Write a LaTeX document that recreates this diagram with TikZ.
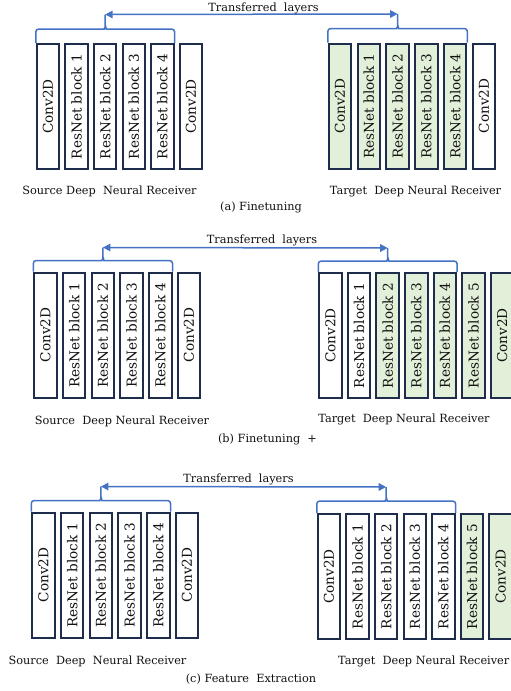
\documentclass[tikz,border=0pt]{standalone}
\usepackage{fontspec}
\setmainfont{DejaVu Serif}
\usetikzlibrary{arrows.meta,calc}

\definecolor{boxline}{HTML}{1F2D4D}
\definecolor{layerfill}{HTML}{E2EFD9}
\definecolor{linkblue}{HTML}{4472C4}
\definecolor{txt}{HTML}{111111}

\tikzset{
  layer/.style={draw=boxline, line width=2pt, fill=white,
    minimum width=22.5pt, minimum height=125pt, inner sep=0pt,
    font=\fontsize{13.6}{14}\selectfont, text=txt},
  tuned/.style={layer, fill=layerfill},
  bracepath/.style={draw=linkblue, line width=1.5pt, rounded corners=3pt},
  transfer/.style={draw=linkblue, line width=1.5pt,
    {Triangle[length=7.5pt,width=7.5pt]}-{Triangle[length=7.5pt,width=7.5pt]}},
  lbl/.style={font=\fontsize{11.3}{13}\selectfont, text=txt, inner sep=0pt},
}

% brace over the transferred layers: first node, last node, name of the peak,
% brace rise above the boxes, peak rise above the boxes
\newcommand\layerbrace[5]{%
  \draw[bracepath] let \p1=(#1.north west), \p2=(#2.north east),
      \n1={0.5*(\x1+\x2)}, \n2={\y1+#4pt}, \n3={\y1+#5pt} in
    (\p1) -- (\x1,\n2) -- ({\n1-4pt},\n2)
      to[out=0,in=-90] (\n1,{\n2+4pt}) -- (\n1,\n3) coordinate (#3)
    (\n1,{\n2+4pt}) to[out=-90,in=180] ({\n1+4pt},\n2) -- (\x2,\n2) -- (\p2);
}

\begin{document}
\begin{tikzpicture}[x=1pt,y=-1pt]
\useasboundingbox[fill=white] (0,0) rectangle (511,691);

% ---------------- (a) Finetuning ----------------
\foreach \t/\s [count=\i] in {Conv2D/layer, ResNet block 1/layer, ResNet block 2/layer,
    ResNet block 3/layer, ResNet block 4/layer, Conv2D/layer}
  \node[\s] (a-s\i) at ({48+28.6*(\i-1)},106.5) {\rotatebox{90}{\t}};
\foreach \t/\s [count=\i] in {Conv2D/tuned, ResNet block 1/tuned, ResNet block 2/tuned,
    ResNet block 3/tuned, ResNet block 4/tuned, Conv2D/layer}
  \node[\s] (a-t\i) at ({340+28.8*(\i-1)},106) {\rotatebox{90}{\t}};
\layerbrace{a-s1}{a-s5}{a-sp}{14}{28.5}
\layerbrace{a-t1}{a-t5}{a-tp}{14}{28.5}
\draw[transfer] (a-sp) -- (a-tp);
\node[lbl, anchor=south] (a-tl) at (263.5,14) {Transferred\ \ layers};
\node[lbl] (a-sl) at (109.5,191) {Source Deep\ \ Neural Receiver};
\node[lbl] (a-tgl) at (415.5,191) {Target\ \ Deep Neural Receiver};
\node[lbl] (a-cap) at (261,207) {(a) Finetuning};

% ---------------- (b) Finetuning + ----------------
\foreach \t/\s [count=\i] in {Conv2D/layer, ResNet block 1/layer, ResNet block 2/layer,
    ResNet block 3/layer, ResNet block 4/layer, Conv2D/layer}
  \node[\s] (b-s\i) at ({45.5+28.7*(\i-1)},335) {\rotatebox{90}{\t}};
\foreach \t/\s [count=\i] in {Conv2D/layer, ResNet block 1/layer, ResNet block 2/tuned,
    ResNet block 3/tuned, ResNet block 4/tuned, ResNet block 5/tuned, Conv2D/tuned}
  \node[\s] (b-t\i) at ({330.5+28.6*(\i-1)},335.5) {\rotatebox{90}{\t}};
\layerbrace{b-s1}{b-s5}{b-sp}{11}{24}
\layerbrace{b-t1}{b-t5}{b-tp}{11}{24}
\draw[transfer] (b-sp) -- (b-tp);
\node[lbl, anchor=south] (b-tl) at (262,246.5) {Transferred\ \ layers};
\node[lbl] (b-sl) at (122,421) {Source\ \ Deep Neural Receiver};
\node[lbl] (b-tgl) at (404,419) {Target\ \ Deep Neural Receiver};
\node[lbl] (b-cap) at (267.5,439) {(b) Finetuning\ \ +};

% ---------------- (c) Feature Extraction ----------------
\foreach \t/\s [count=\i] in {Conv2D/layer, ResNet block 1/layer, ResNet block 2/layer,
    ResNet block 3/layer, ResNet block 4/layer, ResNet block 5/tuned, Conv2D/tuned}
  \node[\s] (c-t\i) at ({329+28.6*(\i-1)},576.5) {\rotatebox{90}{\t}};
\foreach \t/\s [count=\i] in {Conv2D/layer, ResNet block 1/layer, ResNet block 2/layer,
    ResNet block 3/layer, ResNet block 4/layer, Conv2D/layer}
  \node[\s] (c-s\i) at ({43.5+28.7*(\i-1)},575) {\rotatebox{90}{\t}};
\layerbrace{c-s1}{c-s5}{c-sp}{11}{25}
\layerbrace{c-t1}{c-t5}{c-tp}{12}{26}
\draw[transfer] (c-sp) -- (c-tp);
\node[lbl, anchor=south] (c-tl) at (238.5,485.5) {Transferred\ \ layers};
\node[lbl] (c-sl) at (97.5,661) {Source\ \ Deep\ \ Neural Receiver};
\node[lbl, anchor=east] (c-tgl) at (509.5,661) {Target\ \ Deep Neural Receiver};
\node[lbl] (c-cap) at (251,679) {(c) Feature\ \ Extraction};
\end{tikzpicture}
\end{document}
